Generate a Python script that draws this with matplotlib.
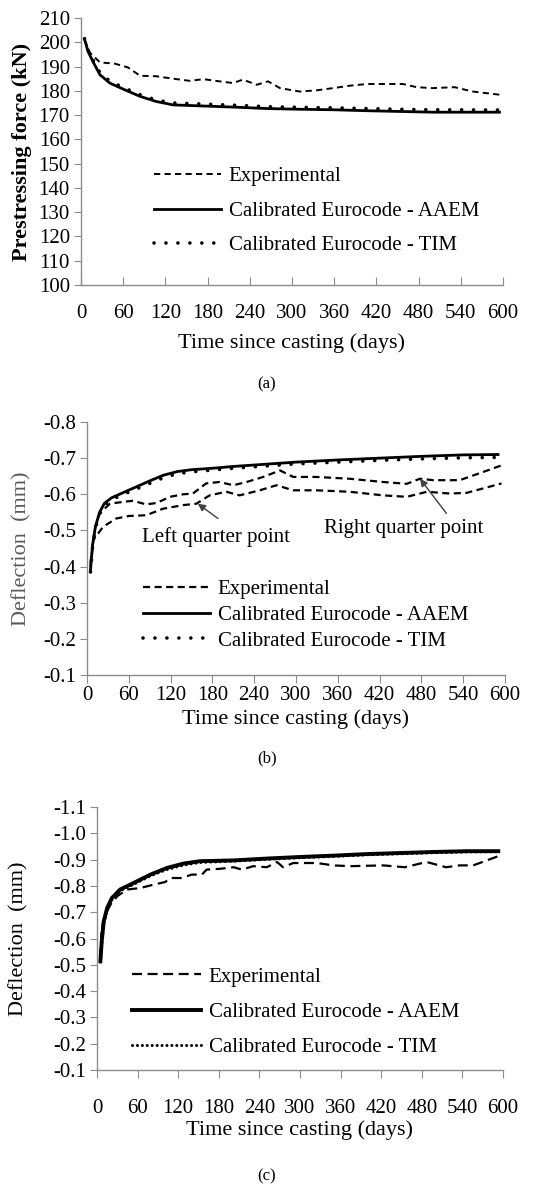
import matplotlib
matplotlib.use("Agg")
import matplotlib.pyplot as plt
from matplotlib.ticker import FormatStrFormatter

plt.rcParams['font.family'] = ['Liberation Serif', 'DejaVu Serif']
plt.rcParams['axes.unicode_minus'] = False

W, H = 534, 1189

# ---- data: (a) prestressing force ----
a_exp_days = [5, 13, 27, 48, 67, 84, 107, 131, 155, 174, 197, 216, 230, 250, 266, 283,
              311, 335, 358, 382, 406, 429, 458, 477, 500, 531, 557, 595]
a_exp = [201, 195.6, 191.7, 191.2, 189.6, 186.2, 186, 185, 184.1, 184.8, 183.9, 183.2,
         184.6, 182.5, 183.9, 181.1, 179.7, 180.2, 181.1, 182.1, 182.8, 182.8, 182.8,
         181.5, 181.1, 181.5, 179.7, 178.4]
a_mod_days = [5, 10, 17, 27, 41, 60, 84, 107, 131, 169, 216, 264, 311, 358, 406, 453, 500, 595]
a_aaem = [201.3, 196.2, 192, 186.6, 183.2, 180.7, 177.7, 175.6, 174.2, 173.8, 173.3,
          172.7, 172.4, 172.2, 171.8, 171.5, 171.2, 171.2]
a_tim = [201.5, 196.8, 192.8, 187.5, 184, 181.4, 178.4, 176.2, 175, 174.6, 174.1,
         173.5, 173.2, 173, 172.7, 172.4, 172.2, 172.1]

# ---- data: (b) deflection, quarter points ----
b_mod_days = [5, 8, 12, 18, 25, 35, 50, 70, 90, 110, 130, 150, 180, 210, 240, 270, 300,
              360, 420, 480, 540, 590]
b_aaem = [-0.39, -0.46, -0.51, -0.55, -0.575, -0.59, -0.603, -0.62, -0.637, -0.653, -0.663,
          -0.668, -0.672, -0.677, -0.681, -0.685, -0.689, -0.695, -0.700, -0.705, -0.709, -0.71]
b_tim = [-0.385, -0.455, -0.505, -0.545, -0.57, -0.585, -0.598, -0.614, -0.63, -0.646, -0.657,
         -0.662, -0.667, -0.672, -0.676, -0.68, -0.684, -0.689, -0.694, -0.698, -0.701, -0.702]
b_right_days = [5, 11, 18, 33, 52, 66, 85, 100, 119, 138, 152, 171, 190, 210, 229, 253, 277,
                296, 329, 377, 425, 459, 478, 497, 535, 569, 595]
b_right = [-0.41, -0.50, -0.547, -0.574, -0.579, -0.582, -0.572, -0.576, -0.593, -0.600,
           -0.602, -0.630, -0.634, -0.625, -0.634, -0.648, -0.666, -0.648, -0.648, -0.643,
           -0.634, -0.629, -0.643, -0.639, -0.639, -0.662, -0.680]
b_left_days = [5, 9, 23, 42, 60, 85, 109, 138, 157, 176, 200, 219, 248, 272, 296, 329, 377,
               425, 459, 488, 521, 545, 574, 595]
b_left = [-0.40, -0.473, -0.51, -0.533, -0.540, -0.542, -0.56, -0.570, -0.574, -0.597, -0.607,
          -0.597, -0.611, -0.625, -0.611, -0.611, -0.607, -0.597, -0.593, -0.607, -0.602,
          -0.604, -0.619, -0.630]

# ---- data: (c) deflection, midspan ----
c_mod_days = [5, 7, 10, 15, 22, 34, 54, 79, 103, 128, 152, 202, 251, 300, 349, 398, 448,
              497, 546, 593]
c_aaem = [-0.514, -0.59, -0.666, -0.716, -0.754, -0.786, -0.811, -0.843, -0.868, -0.885,
          -0.894, -0.897, -0.904, -0.91, -0.915, -0.921, -0.925, -0.929, -0.932, -0.932]
c_tim = [-0.51, -0.58, -0.655, -0.708, -0.748, -0.781, -0.806, -0.838, -0.862, -0.879,
         -0.889, -0.894, -0.901, -0.907, -0.912, -0.918, -0.922, -0.926, -0.929, -0.930]
c_exp_days = [5, 7, 12, 20, 30, 44, 64, 84, 101, 108, 125, 140, 155, 162, 182, 202, 214, 231,
              251, 266, 275, 290, 325, 349, 374, 423, 455, 487, 516, 536, 556, 593]
c_exp = [-0.527, -0.64, -0.69, -0.729, -0.761, -0.786, -0.792, -0.805, -0.815, -0.83, -0.83,
         -0.843, -0.843, -0.862, -0.865, -0.871, -0.862, -0.875, -0.871, -0.891, -0.871,
         -0.887, -0.887, -0.878, -0.875, -0.878, -0.871, -0.891, -0.871, -0.878, -0.878, -0.913]

x_ticks = list(range(0, 601, 60))
labels = ['Experimental', 'Calibrated Eurocode - AAEM', 'Calibrated Eurocode - TIM']
GRAY = '#8c8c8c'
FS = 15      # tick labels, legend, notes
FS_LAB = 16  # axis titles


def px_axes(left, right, top, bottom):
    return fig.add_axes([left / W, 1 - bottom / H, (right - left) / W, (bottom - top) / H])


def style(ax, xdir, xpad):
    for s in ('top', 'right'):
        ax.spines[s].set_visible(False)
    for s in ('left', 'bottom'):
        ax.spines[s].set_color(GRAY)
        ax.spines[s].set_linewidth(1.0)
    ax.set_xlim(0, 600)
    ax.set_xticks(x_ticks)
    ax.tick_params(axis='x', direction=xdir, length=6, color=GRAY, pad=xpad, labelsize=FS)
    ax.tick_params(axis='y', direction='out', length=5, color=GRAY, pad=3, labelsize=FS)


def legend(ax, handles, x, y, spacing, hlen):
    ax.legend(handles, labels, loc='center left', bbox_to_anchor=(x / W, 1 - y / H),
              bbox_transform=fig.transFigure, frameon=False, fontsize=FS,
              handlelength=hlen, handletextpad=0.38, labelspacing=spacing,
              borderpad=0, borderaxespad=0)


fig = plt.figure(figsize=(W / 100, H / 100), dpi=100)

# ---------------- (a) ----------------
ax = px_axes(81, 503, 18, 285)
style(ax, 'in', 14)
ax.set_ylim(100, 210)
ax.set_yticks(range(100, 211, 10))
h1, = ax.plot(a_exp_days, a_exp, color='black', lw=1.4, ls=(0, (3.2, 2.2)))
h2, = ax.plot(a_mod_days, a_aaem, color='black', lw=2.0)
h3, = ax.plot(a_mod_days, a_tim, color='black', lw=2.6, ls=(0, (0.01, 3.3)),
              dash_capstyle='round')
legend(ax, [h1, h2, h3], 154, 211, 0.72, 3.2)
ax.set_ylabel('Prestressing force (kN)', fontsize=FS_LAB, fontweight='bold', va='center')
ax.yaxis.set_label_coords((22 - 81) / 422, 0.5)
ax.set_xlabel('Time since casting (days)', fontsize=FS_LAB, va='center')
ax.xaxis.set_label_coords(0.5, -(343 - 285) / 267)
fig.text(267 / W, 1 - 384 / H, '(a)', ha='center', va='center', fontsize=12)

# ---------------- (b) ----------------
ax = px_axes(87, 505, 422, 675)
style(ax, 'out', 2)
ax.set_ylim(-0.1, -0.8)
ax.set_yticks([-0.1, -0.2, -0.3, -0.4, -0.5, -0.6, -0.7, -0.8])
ax.yaxis.set_major_formatter(FormatStrFormatter('%.1f'))
dash_b = (0, (3.2, 2.0))
h1, = ax.plot(b_left_days, b_left, color='black', lw=1.6, ls=dash_b)
ax.plot(b_right_days, b_right, color='black', lw=1.6, ls=dash_b)
h2, = ax.plot(b_mod_days, b_aaem, color='black', lw=2.0)
h3, = ax.plot(b_mod_days, b_tim, color='black', lw=2.6, ls=(0, (0.01, 3.3)),
              dash_capstyle='round')
legend(ax, [h1, h2, h3], 143, 615, 0.3, 3.2)
arrow = dict(arrowstyle='-|>', color='#404040', lw=1.0, mutation_scale=11,
             shrinkA=0, shrinkB=0)
ax.annotate('', xy=(159, -0.574), xytext=(188, -0.533), arrowprops=arrow)
ax.text(185, -0.482, 'Left quarter point', ha='center', va='center', fontsize=FS)
ax.annotate('', xy=(478, -0.643), xytext=(516, -0.547), arrowprops=arrow)
ax.text(454, -0.505, 'Right quarter point', ha='center', va='center', fontsize=FS)
ax.set_ylabel('Deflection  (mm)', fontsize=FS_LAB, color='#5a5a5a', va='center')
ax.yaxis.set_label_coords((22 - 87) / 418, 0.5)
ax.set_xlabel('Time since casting (days)', fontsize=FS_LAB, va='center')
ax.xaxis.set_label_coords(0.5, -(719 - 675) / 253)
fig.text(267 / W, 1 - 758 / H, '(b)', ha='center', va='center', fontsize=12)

# ---------------- (c) ----------------
ax = px_axes(97, 503, 807, 1070)
style(ax, 'out', 15)
ax.set_ylim(-0.1, -1.1)
ax.set_yticks([-0.1, -0.2, -0.3, -0.4, -0.5, -0.6, -0.7, -0.8, -0.9, -1.0, -1.1])
ax.yaxis.set_major_formatter(FormatStrFormatter('%.1f'))
h1, = ax.plot(c_exp_days, c_exp, color='black', lw=1.6, ls=(0, (4.5, 2.5)))
h2, = ax.plot(c_mod_days, c_aaem, color='black', lw=2.8)
h3, = ax.plot(c_mod_days, c_tim, color='black', lw=2.2, ls=(0, (0.01, 1.6)),
              dash_capstyle='round')
legend(ax, [h1, h2, h3], 132, 1012, 0.75, 3.3)
ax.set_ylabel('Deflection  (mm)', fontsize=FS_LAB, va='center')
ax.yaxis.set_label_coords((19 - 97) / 406, 0.5)
ax.set_xlabel('Time since casting (days)', fontsize=FS_LAB, va='center')
ax.xaxis.set_label_coords(0.5, -(1130 - 1070) / 263)
fig.text(267 / W, 1 - 1176 / H, '(c)', ha='center', va='center', fontsize=12)

fig.savefig('out.png', dpi=100, facecolor='white')
